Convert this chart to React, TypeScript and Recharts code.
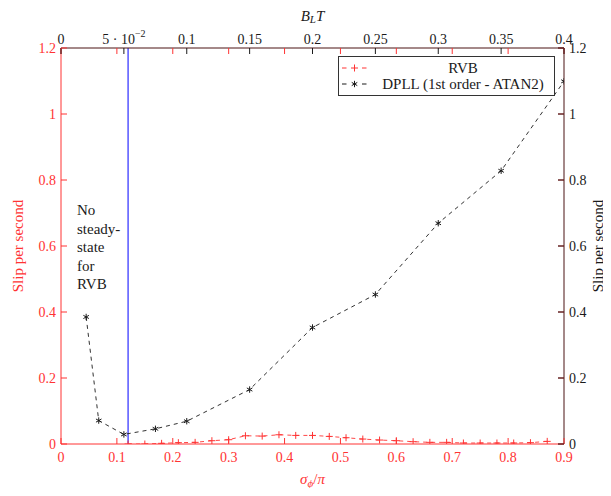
import { LineChart, Line, XAxis, YAxis, ReferenceLine, Legend } from 'recharts';

const FONT = '"Liberation Serif", "DejaVu Serif", serif';
const RED = '#ff3333';
const DARK = '#4b1212';
const INK = '#1a1a1a';

// bottom axis (sigma_phi / pi) and top axis (B_L T)
const sigmaTicks = [0, 0.1, 0.2, 0.3, 0.4, 0.5, 0.6, 0.7, 0.8, 0.9];
const bltTicks = [0, 0.05, 0.1, 0.15, 0.2, 0.25, 0.3, 0.35, 0.4];
const slipTicks = [0, 0.2, 0.4, 0.6, 0.8, 1, 1.2];

const rvbSigma = [
  0.12, 0.15, 0.18, 0.21, 0.24, 0.27, 0.3, 0.33, 0.36, 0.39, 0.42, 0.45, 0.48,
  0.51, 0.54, 0.57, 0.6, 0.63, 0.66, 0.69, 0.72, 0.75, 0.78, 0.81, 0.84, 0.87,
];
const rvbSlip = [
  0, 0, 0.002, 0.004, 0.005, 0.01, 0.013, 0.025, 0.024, 0.028, 0.026, 0.026, 0.023,
  0.019, 0.015, 0.012, 0.01, 0.007, 0.005, 0.005, 0.003, 0.003, 0.003, 0.003, 0.004, 0.008,
];

const dpllSigma = [0.045, 0.0675, 0.1125, 0.169, 0.225, 0.3375, 0.45, 0.5625, 0.675, 0.7875, 0.9];
const dpllSlip = [0.385, 0.071, 0.029, 0.046, 0.069, 0.165, 0.353, 0.453, 0.669, 0.828, 1.099];

const seriesNames = ['RVB', 'DPLL (1st order - ATAN2)'];
const noteLines = ['No', 'steady-', 'state', 'for', 'RVB'];
const steadyStateLimit = 0.12;

const rvbData = rvbSigma.map((x, i) => ({ x, y: rvbSlip[i] }));
const dpllData = dpllSigma.map((x, i) => ({ x, y: dpllSlip[i] }));
// the top axis has no series of its own; this invisible one only gives it a range
const bltRange = bltTicks.map((x) => ({ x, y: 0 }));

// layout (kept inside the 611x496 window so nothing scrolls)
const W = 603;
const H = 480;
const MARGIN = { top: 10, right: 7, bottom: 14, left: 0 };
const LEFT_W = 53;
const RIGHT_W = 40;
const AXIS_H = 30;
const PW = W - MARGIN.left - MARGIN.right - LEFT_W - RIGHT_W;
const PH = H - MARGIN.top - MARGIN.bottom - 2 * AXIS_H;
const PLOT_X = MARGIN.left + LEFT_W;
const PLOT_Y = MARGIN.top + AXIS_H;
const TICK = 6;

const fmt = (v: number) => String(v);

const Plus = ({ cx, cy, color }: any) => (
  <g stroke={color} strokeWidth={1}>
    <line x1={cx - 3.5} y1={cy} x2={cx + 3.5} y2={cy} />
    <line x1={cx} y1={cy - 3.5} x2={cx} y2={cy + 3.5} />
  </g>
);

const Asterisk = ({ cx, cy, color }: any) => {
  const r = 3.2;
  const dx = r * Math.cos(Math.PI / 6);
  const dy = r * Math.sin(Math.PI / 6);
  return (
    <g stroke={color} strokeWidth={1}>
      <line x1={cx} y1={cy - r} x2={cx} y2={cy + r} />
      <line x1={cx - dx} y1={cy - dy} x2={cx + dx} y2={cy + dy} />
      <line x1={cx - dx} y1={cy + dy} x2={cx + dx} y2={cy - dy} />
    </g>
  );
};

const BottomTick = ({ x, y, payload }: any) => (
  <g>
    <line x1={x} y1={y} x2={x} y2={y - TICK} stroke={RED} />
    <line x1={x} y1={y - PH} x2={x} y2={y - PH + TICK} stroke={RED} />
    <text x={x} y={y + 13} textAnchor="middle" dominantBaseline="central" fill={RED} fontSize={14} fontFamily={FONT}>
      {fmt(payload.value)}
    </text>
  </g>
);

const TopTick = ({ x, y, payload }: any) => (
  <g>
    <line x1={x} y1={y} x2={x} y2={y + TICK} stroke={INK} />
    <text x={x} y={y - 9} textAnchor="middle" dominantBaseline="central" fill={INK} fontSize={14} fontFamily={FONT}>
      {payload.value === 0.05 ? (
        <>
          5 · 10<tspan fontSize={10} dy={-6}>−2</tspan>
        </>
      ) : (
        fmt(payload.value)
      )}
    </text>
  </g>
);

const LeftTick = ({ x, y, payload }: any) => (
  <g>
    <line x1={x} y1={y} x2={x + TICK} y2={y} stroke={RED} />
    <line x1={x + PW} y1={y} x2={x + PW - TICK} y2={y} stroke={RED} />
    <text x={x - 5} y={y} textAnchor="end" dominantBaseline="central" fill={RED} fontSize={14} fontFamily={FONT}>
      {fmt(payload.value)}
    </text>
  </g>
);

const RightTick = ({ x, y, payload }: any) => (
  <g>
    <line x1={x} y1={y} x2={x - TICK} y2={y} stroke={INK} />
    <text x={x + 5} y={y} textAnchor="start" dominantBaseline="central" fill={INK} fontSize={14} fontFamily={FONT}>
      {fmt(payload.value)}
    </text>
  </g>
);

const BottomTitle = () => (
  <text x={PLOT_X + PW / 2} y={PLOT_Y + PH + 35} textAnchor="middle" dominantBaseline="central" fill={RED} fontSize={15} fontStyle="italic" fontFamily={FONT}>
    σ<tspan fontSize={11} dy={4}>ϕ</tspan>
    <tspan dy={-4} fontStyle="normal">/</tspan>π
  </text>
);

const TopTitle = () => (
  <text x={PLOT_X + PW / 2} y={7.5} textAnchor="middle" dominantBaseline="central" fill={INK} fontSize={15} fontStyle="italic" fontFamily={FONT}>
    B<tspan fontSize={11} dy={3}>L</tspan>
    <tspan dy={-3}>T</tspan>
  </text>
);

const SideTitle = ({ side }: any) => {
  const cx = side === 'left' ? 10 : PLOT_X + PW + 36;
  const cy = PLOT_Y + PH / 2;
  return (
    <g transform={`translate(${cx} ${cy}) rotate(-90)`}>
      <text x={0} y={side === 'left' ? 5 : 3} textAnchor="middle" fill={side === 'left' ? RED : INK} fontSize={15} fontFamily={FONT}>
        Slip per second
      </text>
    </g>
  );
};

const LegendBox = () => (
  <div style={{ border: '1px solid #333', background: '#fff', padding: '3px 0', fontSize: 15, color: INK, lineHeight: '16px', fontFamily: FONT }}>
    {seriesNames.map((name, i) => {
      const color = i === 0 ? RED : INK;
      return (
        <div key={name} style={{ display: 'flex', alignItems: 'center', height: 16 }}>
          <svg width={26} height={12} style={{ marginLeft: 3 }}>
            <line x1={0} y1={6} x2={4.5} y2={6} stroke={color} />
            <line x1={20} y1={6} x2={24.5} y2={6} stroke={color} />
            {i === 0 ? <Plus cx={12.5} cy={6} color={color} /> : <Asterisk cx={12.5} cy={6} color={color} />}
          </svg>
          <div style={{ flex: 1, textAlign: 'center', marginLeft: 4 }}>{name}</div>
        </div>
      );
    })}
  </div>
);

export default function App() {
  return (
    <div style={{ position: 'relative', width: W, height: H, fontFamily: FONT }}>
      <LineChart width={W} height={H} margin={MARGIN} style={{ fontFamily: FONT, overflow: 'visible' }}>
        <XAxis
          xAxisId={0}
          dataKey="x"
          type="number"
          domain={[0, 0.9]}
          ticks={sigmaTicks}
          allowDataOverflow
          height={AXIS_H}
          axisLine={{ stroke: RED }}
          tickLine={false}
          tickSize={0}
          tickMargin={0}
          tick={<BottomTick />}
          interval={0}
          label={<BottomTitle />}
        />
        <XAxis
          xAxisId="top"
          dataKey="x"
          orientation="top"
          type="number"
          domain={[0, 0.4]}
          ticks={bltTicks}
          allowDataOverflow
          height={AXIS_H}
          axisLine={{ stroke: DARK }}
          tickLine={false}
          tickSize={0}
          tickMargin={0}
          tick={<TopTick />}
          interval={0}
          label={<TopTitle />}
        />
        <YAxis
          yAxisId={0}
          type="number"
          domain={[0, 1.2]}
          ticks={slipTicks}
          allowDataOverflow
          width={LEFT_W}
          axisLine={{ stroke: RED }}
          tickLine={false}
          tickSize={0}
          tickMargin={0}
          tick={<LeftTick />}
          interval={0}
          label={<SideTitle side="left" />}
        />
        <YAxis
          yAxisId="right"
          orientation="right"
          type="number"
          domain={[0, 1.2]}
          ticks={slipTicks}
          allowDataOverflow
          width={RIGHT_W}
          axisLine={{ stroke: DARK }}
          tickLine={false}
          tickSize={0}
          tickMargin={0}
          tick={<RightTick />}
          interval={0}
          label={<SideTitle side="right" />}
        />
        <ReferenceLine x={steadyStateLimit} stroke="#0000ff" strokeWidth={1} />
        <Line
          xAxisId="top"
          data={bltRange}
          dataKey="y"
          stroke="none"
          dot={false}
          activeDot={false}
          legendType="none"
          isAnimationActive={false}
        />
        <Line
          data={rvbData}
          dataKey="y"
          name={seriesNames[0]}
          type="linear"
          stroke={RED}
          strokeWidth={0.9}
          strokeDasharray="4 4"
          dot={(p: any) => <Plus key={`r${p.index}`} cx={p.cx} cy={p.cy} color={RED} />}
          activeDot={false}
          isAnimationActive={false}
        />
        <Line
          data={dpllData}
          dataKey="y"
          name={seriesNames[1]}
          type="linear"
          stroke={INK}
          strokeWidth={0.9}
          strokeDasharray="4 4"
          dot={(p: any) => <Asterisk key={`d${p.index}`} cx={p.cx} cy={p.cy} color={INK} />}
          activeDot={false}
          isAnimationActive={false}
        />
        <Legend
          layout="horizontal"
          verticalAlign="middle"
          align="center"
          content={<LegendBox />}
          wrapperStyle={{ left: 330, top: 48, width: 217, height: 43 }}
        />
      </LineChart>
      <div style={{ position: 'absolute', left: 69, top: 193, fontSize: 15, lineHeight: '18.6px', color: INK }}>
        {noteLines.map((t) => (
          <div key={t}>{t}</div>
        ))}
      </div>
    </div>
  );
}
